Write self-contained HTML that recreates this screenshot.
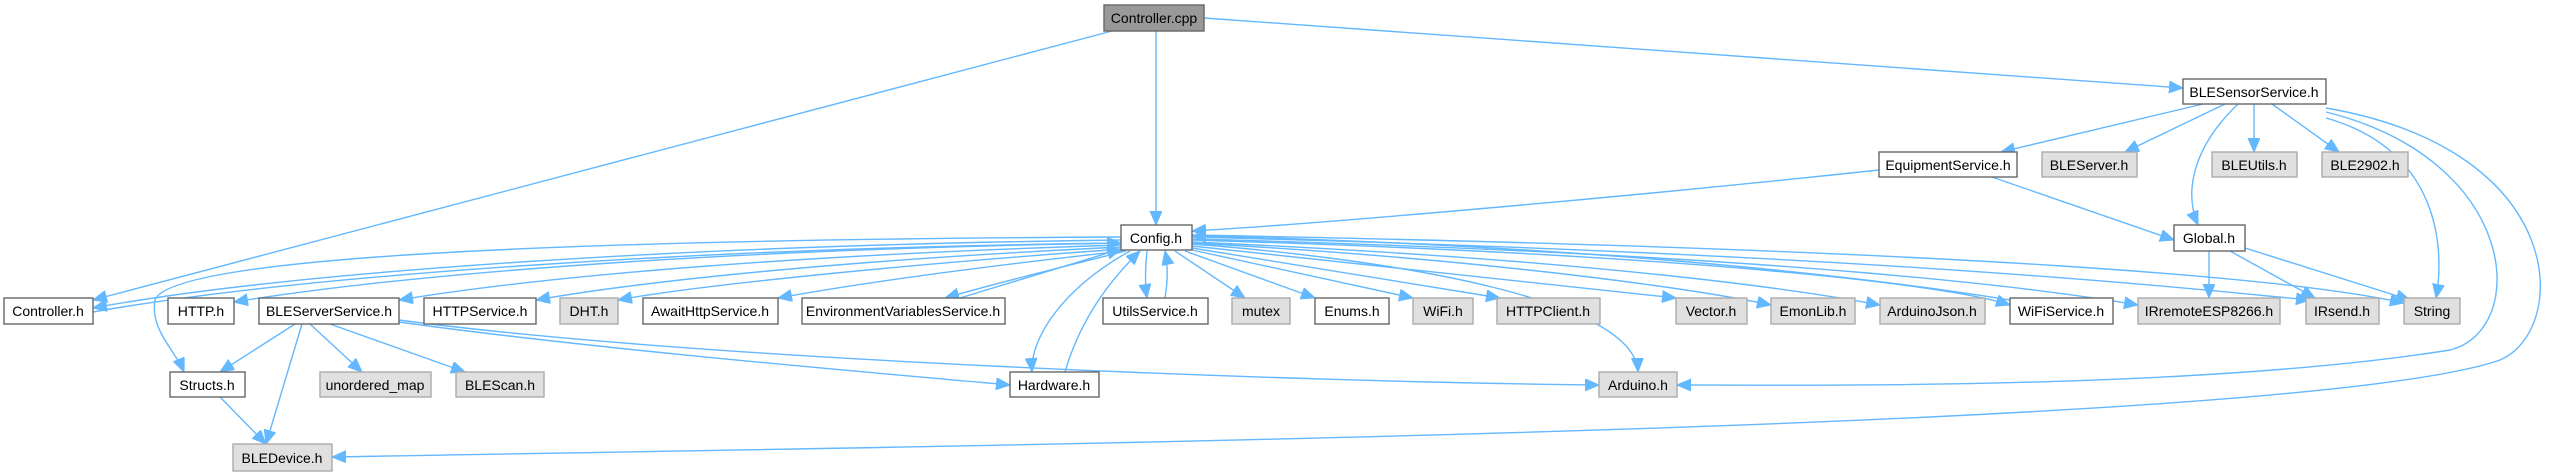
<!DOCTYPE html>
<html><head><meta charset="utf-8"><style>
html,body{margin:0;padding:0;background:#fff;}
svg{display:block;}
text{font-family:"Liberation Sans",Arial,sans-serif;font-size:14px;fill:#000;text-anchor:middle;}
.e{fill:none;stroke:#63b8ff;stroke-width:1.4;marker-end:url(#a);}
.w{fill:#fff;stroke:#666;stroke-width:1.4;}
.g{fill:#e0e0e0;stroke:#aaa;stroke-width:1.4;}
.d{fill:#999;stroke:#666;stroke-width:1.4;}
</style></head><body>
<svg width="2553" height="476" viewBox="0 0 2553 476" xmlns="http://www.w3.org/2000/svg">
<defs><marker id="a" markerUnits="userSpaceOnUse" markerWidth="16" markerHeight="14" refX="14" refY="6" orient="auto"><path d="M0,0 L14,6 L0,12 Z" fill="#63b8ff" stroke="#63b8ff"/></marker></defs>

<path class="e" d="M1112,31 L93,300"/>
<path class="e" d="M1156,31 L1156,225"/>
<path class="e" d="M1204,18 L2183,88"/>
<path class="e" d="M2203,104 L2001,152"/>
<path class="e" d="M2225,104 L2125,152"/>
<path class="e" d="M2238,104 C2190,150 2185,195 2198,225"/>
<path class="e" d="M2254,104 L2254,152"/>
<path class="e" d="M2272,104 L2339,152"/>
<path class="e" d="M2326,118 C2440,150 2445,250 2436,298"/>
<path class="e" d="M2326,112 C2520,160 2530,330 2450,350 C2200,390 1800,385 1677,385"/>
<path class="e" d="M2326,108 C2570,150 2570,330 2500,360 C2300,430 1000,445 332,457"/>
<path class="e" d="M1879,170 C1600,200 1300,225 1192,231"/>
<path class="e" d="M1992,177 L2174,240"/>
<path class="e" d="M2209,251 L2209,298"/>
<path class="e" d="M2230,251 L2315,298"/>
<path class="e" d="M2245,248 L2410,300"/>

<path class="e" d="M1121,240 C700,245 300,270 93,308"/>
<path class="e" d="M93,312 C300,275 700,248 1121,243"/>
<path class="e" d="M1121,243 C700,250 400,275 234,302"/>
<path class="e" d="M1121,237 C500,240 170,260 155,300 C150,330 175,350 184,372"/>
<path class="e" d="M1121,245 C800,255 550,275 399,300"/>
<path class="e" d="M1121,247 C850,260 650,280 536,300"/>
<path class="e" d="M1122,249 C900,265 700,285 618,300"/>
<path class="e" d="M1124,251 C950,270 850,285 778,298"/>
<path class="e" d="M1126,251 C1050,270 990,285 945,298"/>
<path class="e" d="M960,298 C1020,280 1080,262 1121,249"/>
<path class="e" d="M1130,251 C1060,290 1030,340 1032,372"/>
<path class="e" d="M1065,372 C1080,320 1110,280 1140,251"/>
<path class="e" d="M1147,251 C1145,270 1145,285 1147,298"/>
<path class="e" d="M1165,298 C1168,280 1168,265 1165,251"/>
<path class="e" d="M1175,251 L1245,298"/>
<path class="e" d="M1185,251 L1315,298"/>
<path class="e" d="M1192,250 L1413,298"/>
<path class="e" d="M1192,248 L1500,298"/>
<path class="e" d="M1192,246 L1676,298"/>
<path class="e" d="M1192,244 C1400,260 1635,300 1638,372"/>
<path class="e" d="M1192,243 C1500,260 1700,290 1771,305"/>
<path class="e" d="M1192,242 C1600,260 1800,290 1880,305"/>
<path class="e" d="M1192,240 C1700,255 1950,285 2010,305"/>
<path class="e" d="M2010,300 C1700,250 1300,238 1192,236"/>
<path class="e" d="M1192,239 C1800,255 2050,290 2138,305"/>
<path class="e" d="M1192,237 C1900,255 2200,290 2310,300"/>
<path class="e" d="M1192,235 C2000,250 2300,280 2404,303"/>

<path class="e" d="M295,324 L220,372"/>
<path class="e" d="M302,324 L266,444"/>
<path class="e" d="M310,324 L362,372"/>
<path class="e" d="M330,324 L465,372"/>
<path class="e" d="M399,322 C600,350 900,375 1010,385"/>
<path class="e" d="M399,320 C700,360 1300,382 1599,385"/>
<path class="e" d="M220,397 L266,444"/>

<rect class="d" x="1104" y="5" width="100" height="26"/><text x="1154" y="23">Controller.cpp</text>
<rect class="w" x="2183" y="79" width="143" height="25"/><text x="2254" y="97">BLESensorService.h</text>
<rect class="w" x="1879" y="152" width="138" height="25"/><text x="1948" y="170">EquipmentService.h</text>
<rect class="g" x="2042" y="152" width="95" height="25"/><text x="2089" y="170">BLEServer.h</text>
<rect class="g" x="2212" y="152" width="85" height="25"/><text x="2254" y="170">BLEUtils.h</text>
<rect class="g" x="2322" y="152" width="86" height="25"/><text x="2365" y="170">BLE2902.h</text>
<rect class="w" x="1121" y="225" width="71" height="25"/><text x="1156" y="243">Config.h</text>
<rect class="w" x="2174" y="225" width="71" height="26"/><text x="2209" y="243">Global.h</text>

<rect class="w" x="4" y="298" width="89" height="26"/><text x="48" y="316">Controller.h</text>
<rect class="w" x="168" y="298" width="66" height="26"/><text x="201" y="316">HTTP.h</text>
<rect class="w" x="259" y="298" width="140" height="26"/><text x="329" y="316">BLEServerService.h</text>
<rect class="w" x="424" y="298" width="112" height="26"/><text x="480" y="316">HTTPService.h</text>
<rect class="g" x="560" y="298" width="58" height="26"/><text x="589" y="316">DHT.h</text>
<rect class="w" x="643" y="298" width="135" height="26"/><text x="710" y="316">AwaitHttpService.h</text>
<rect class="w" x="802" y="298" width="203" height="26"/><text x="903" y="316">EnvironmentVariablesService.h</text>
<rect class="w" x="1103" y="298" width="105" height="26"/><text x="1155" y="316">UtilsService.h</text>
<rect class="g" x="1232" y="298" width="58" height="26"/><text x="1261" y="316">mutex</text>
<rect class="w" x="1315" y="298" width="74" height="26"/><text x="1352" y="316">Enums.h</text>
<rect class="g" x="1413" y="298" width="60" height="26"/><text x="1443" y="316">WiFi.h</text>
<rect class="g" x="1497" y="298" width="103" height="26"/><text x="1548" y="316">HTTPClient.h</text>
<rect class="g" x="1676" y="298" width="71" height="26"/><text x="1711" y="316">Vector.h</text>
<rect class="g" x="1771" y="298" width="84" height="26"/><text x="1813" y="316">EmonLib.h</text>
<rect class="g" x="1880" y="298" width="105" height="26"/><text x="1932" y="316">ArduinoJson.h</text>
<rect class="w" x="2010" y="298" width="103" height="26"/><text x="2061" y="316">WiFiService.h</text>
<rect class="g" x="2138" y="298" width="142" height="26"/><text x="2209" y="316">IRremoteESP8266.h</text>
<rect class="g" x="2306" y="298" width="73" height="26"/><text x="2342" y="316">IRsend.h</text>
<rect class="g" x="2404" y="298" width="56" height="26"/><text x="2432" y="316">String</text>

<rect class="w" x="170" y="372" width="75" height="25"/><text x="207" y="390">Structs.h</text>
<rect class="g" x="320" y="372" width="111" height="25"/><text x="375" y="390">unordered_map</text>
<rect class="g" x="456" y="372" width="88" height="25"/><text x="500" y="390">BLEScan.h</text>
<rect class="w" x="1010" y="372" width="89" height="25"/><text x="1054" y="390">Hardware.h</text>
<rect class="g" x="1599" y="372" width="78" height="25"/><text x="1638" y="390">Arduino.h</text>
<rect class="g" x="233" y="444" width="99" height="27"/><text x="282" y="463">BLEDevice.h</text>
</svg>
</body></html>
